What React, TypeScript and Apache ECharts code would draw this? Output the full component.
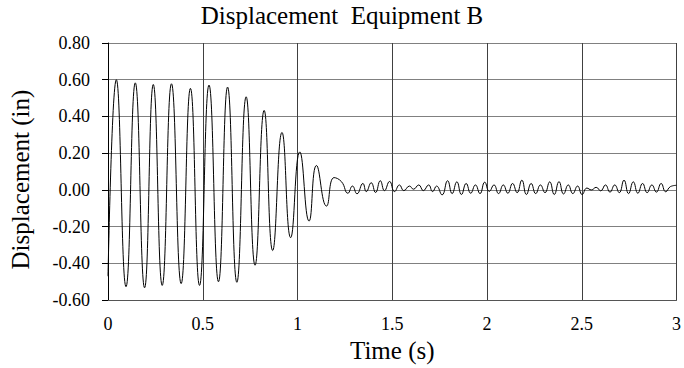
import React, { useEffect, useRef } from "react";
import * as echarts from "echarts";

// Time (s) of each read point (peaks, troughs) of the displacement trace
const timeS: number[] = [
  0, 0.044, 0.095, 0.144, 0.193, 0.239, 0.286, 0.335, 0.386, 0.435, 0.483,
  0.533, 0.583, 0.631, 0.68, 0.729, 0.776, 0.824, 0.869, 0.918, 0.964,
  1.012, 1.061, 1.1, 1.153, 1.193, 1.232, 1.266, 1.29, 1.314, 1.345, 1.363,
  1.389, 1.412, 1.437, 1.459, 1.486, 1.512, 1.538, 1.561, 1.591, 1.612,
  1.64, 1.664, 1.692, 1.713, 1.734, 1.763, 1.792, 1.816, 1.841, 1.865,
  1.89, 1.914, 1.939, 1.963, 1.988, 2.012, 2.037, 2.061, 2.086, 2.11,
  2.135, 2.159, 2.184, 2.208, 2.233, 2.257, 2.282, 2.306, 2.331, 2.355,
  2.38, 2.404, 2.429, 2.453, 2.478, 2.502, 2.527, 2.551, 2.576, 2.6,
  2.625, 2.649, 2.674, 2.698, 2.723, 2.747, 2.772, 2.796, 2.821, 2.845,
  2.87, 2.894, 2.919, 2.943, 2.968, 3.0,
];

// Displacement (in) at each of those times
const dispIn: number[] = [
  -0.47, 0.6, -0.527, 0.583, -0.533, 0.574, -0.52, 0.578, -0.51, 0.553, -0.52,
  0.571, -0.5, 0.56, -0.503, 0.507, -0.41, 0.433, -0.33, 0.313, -0.26,
  0.207, -0.17, 0.133, -0.088, 0.067, 0.045, -0.018, 0.021, -0.021, 0.035, -0.009,
  0.039, -0.014, 0.05, -0.004, 0.046, -0.009, 0.027, -0.004, 0.021, 0.004,
  0.027, -0.004, 0.027, -0.009, 0.021, -0.027, 0.05, -0.02, 0.044, -0.025,
  0.035, -0.018, 0.027, -0.02, 0.042, -0.008, 0.027, -0.02, 0.027, -0.018,
  0.035, -0.015, 0.053, -0.025, 0.035, -0.02, 0.027, -0.015, 0.044, -0.025,
  0.045, -0.022, 0.027, -0.02, 0.021, -0.025, 0.01, 0.0, 0.014, -0.005,
  0.027, -0.012, 0.027, -0.015, 0.053, -0.02, 0.044, -0.018, 0.035, -0.015,
  0.027, -0.012, 0.035, -0.01, 0.018, 0.025,
];

const titleText = "Displacement  Equipment B";
const xName = "Time (s)";
const yName = "Displacement (in)";

const FONT = "Liberation Serif";

export default function App() {
  const ref = useRef<HTMLDivElement>(null);

  useEffect(() => {
    if (!ref.current) return;
    const chart = echarts.init(ref.current, undefined, { renderer: "svg" });
    const data = timeS.map((t, i) => [t, dispIn[i]]);
    const tickRich = {
      t: { fontFamily: FONT, fontSize: 18, color: "#000" },
    };
    chart.setOption({
      animation: false,
      backgroundColor: "#ffffff",
      textStyle: { fontFamily: FONT, color: "#000" },
      title: {
        text: titleText,
        left: "center",
        top: 3,
        padding: 0,
        textStyle: {
          fontFamily: FONT,
          fontSize: 25,
          fontWeight: "normal",
          color: "#000",
        },
      },
      grid: { left: 107, right: 6, top: 43, bottom: 61, containLabel: false },
      xAxis: {
        type: "value",
        min: 0,
        max: 3,
        interval: 0.5,
        name: xName,
        nameLocation: "middle",
        nameGap: 36,
        nameTextStyle: { fontFamily: FONT, fontSize: 25, color: "#000" },
        axisLine: { show: true, onZero: false, lineStyle: { color: "#555", width: 1 } },
        axisTick: { show: false },
        axisLabel: {
          fontFamily: FONT,
          fontSize: 18,
          color: "#000",
          margin: 15,
          formatter: (v: number) => "{t|" + String(v) + "}",
          rich: tickRich,
        },
        splitLine: { show: true, lineStyle: { color: "#404040", width: 1 } },
      },
      yAxis: {
        type: "value",
        min: -0.6,
        max: 0.8,
        interval: 0.2,
        name: yName,
        nameLocation: "middle",
        nameGap: 75,
        nameRotate: 90,
        nameTextStyle: {
          fontFamily: FONT,
          fontSize: 25,
          color: "#000",
          padding: [0, 16, 0, 0],
        },
        axisLine: { show: true, onZero: false, lineStyle: { color: "#000", width: 1 } },
        axisTick: { show: true, length: 6, lineStyle: { color: "#000" } },
        axisLabel: {
          fontFamily: FONT,
          fontSize: 18,
          color: "#000",
          margin: 18,
          formatter: (v: number) => "{t|" + v.toFixed(2) + "}",
          rich: tickRich,
        },
        splitLine: { show: true, lineStyle: { color: "#808080", width: 1 } },
      },
      series: [
        {
          type: "line",
          data,
          smooth: true,
          showSymbol: false,
          lineStyle: { color: "#000", width: 1 },
        },
      ],
    });
    return () => chart.dispose();
  }, []);

  return (
    <div
      ref={ref}
      style={{ position: "fixed", left: 0, top: 0, width: 684, height: 368 }}
    />
  );
}
